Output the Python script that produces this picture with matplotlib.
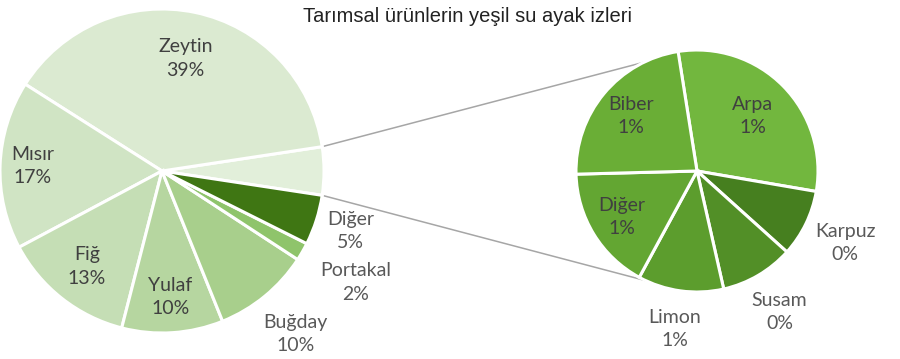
import numpy as np
import matplotlib.pyplot as plt

# main pie (percent of total green water footprint)
main_labels = ["Zeytin", "Mısır", "Fiğ", "Yulaf", "Buğday", "Portakal", "Diğer"]
main_values = [38.6, 16.8, 13.2, 10.1, 9.7, 1.8, 5.0]

# secondary pie, the small crops grouped on the right
sub_labels = ["Arpa", "Karpuz", "Susam", "Limon", "Diğer", "Biber"]
sub_values = [1.45, 0.43, 0.47, 0.55, 0.80, 1.10]

main_colors = ["#dbead1", "#d0e4c4", "#c5deb5", "#b6d6a0", "#a8cf8c",
               "#8fc46b", "#3f7613"]
other_color = "#e2efda"
sub_colors = ["#72b73e", "#467f1f", "#528f27", "#5c9d2d", "#63a632", "#6aae36"]

# label placement, as a fraction of each pie's radius
main_label_r = [0.71, 0.80, 0.75, 0.78, 1.30, 1.38, 1.22]
sub_label_r = [0.65, 1.36, 1.35, 1.32, 0.73, 0.71]

total = sum(main_values) + sum(sub_values)
other = sum(sub_values)

fig = plt.figure(figsize=(9, 3.59), dpi=100)
ax = fig.add_axes([0, 0, 1, 1])

c1, r1 = (162, 188), 162
c2, r2 = (697, 188), 121
wp = dict(edgecolor="white", linewidth=2.2)

half = other / total * 360 / 2
w1, _ = ax.pie([other] + main_values, colors=[other_color] + main_colors,
               startangle=-half, counterclock=True, center=c1, radius=r1,
               wedgeprops=wp)
w2, _ = ax.pie(sub_values, colors=sub_colors, startangle=99,
               counterclock=False, center=c2, radius=r2, wedgeprops=wp)

ax.set_xlim(0, 900)
ax.set_ylim(0, 359)
ax.set_aspect("equal")
ax.axis("off")


def put_labels(wedges, labels, values, fracs, center, radius):
    for w, lab, v, f in zip(wedges, labels, values, fracs):
        a = np.deg2rad((w.theta1 + w.theta2) / 2)
        x = center[0] + radius * f * np.cos(a)
        y = center[1] + radius * f * np.sin(a)
        col = "#404040" if f < 1 else "#595959"
        ax.text(x, y, "%s\n%.0f%%" % (lab, v / total * 100), ha="center",
                va="center", fontsize=14, family="Lato", color=col,
                linespacing=1.45)


put_labels(w1[1:], main_labels, main_values, main_label_r, c1, r1)
put_labels(w2, sub_labels, sub_values, sub_label_r, c2, r2)

# connector lines between the grouped slice and the second pie
for a1, a2 in [(half, 116), (-half, 245)]:
    t1, t2 = np.deg2rad(a1), np.deg2rad(a2)
    ax.plot([c1[0] + r1 * np.cos(t1), c2[0] + r2 * np.cos(t2)],
            [c1[1] + r1 * np.sin(t1), c2[1] + r2 * np.sin(t2)],
            color="#a6a6a6", lw=1.1, zorder=0)

fig.text(0.519, 0.953, "Tarımsal ürünlerin yeşil su ayak izleri",
         ha="center", va="center", fontsize=14.5, family="Liberation Sans",
         color="#222222")

fig.savefig("out.png", dpi=100)
